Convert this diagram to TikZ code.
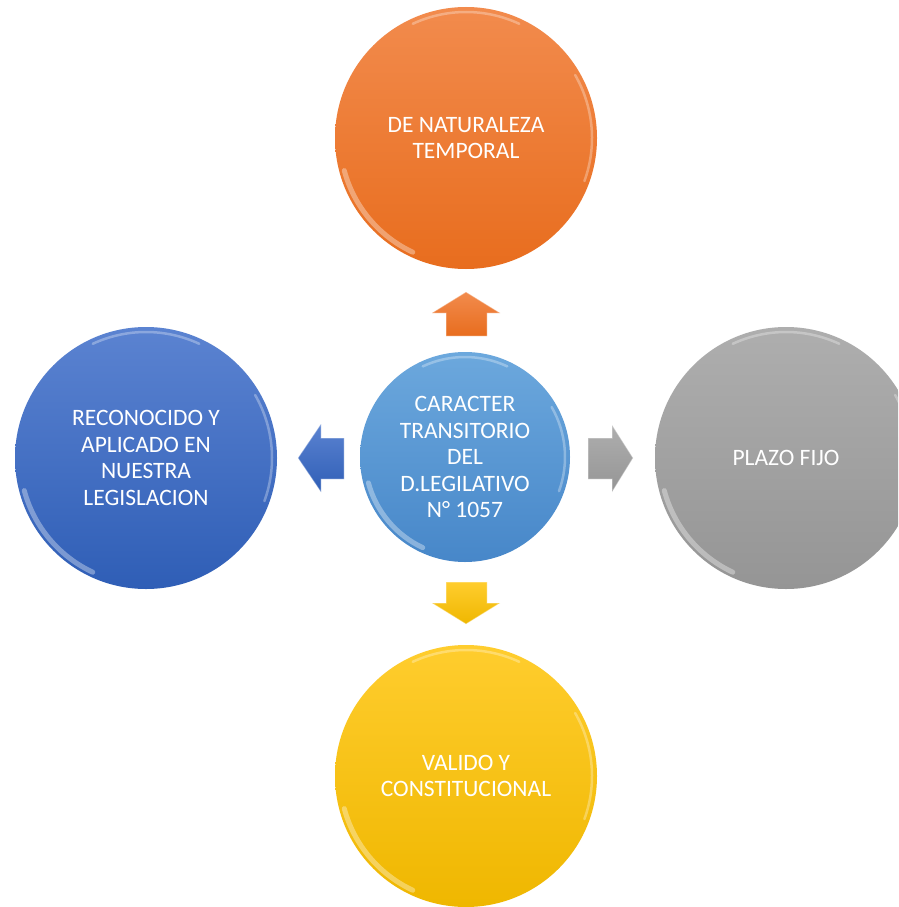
\documentclass[tikz,border=0pt]{standalone}
\usepackage{fontspec}
\setmainfont{Carlito}
\definecolor{orgT}{HTML}{F28B4D}\definecolor{orgB}{HTML}{E86D1E}
\definecolor{bluT}{HTML}{5B83D1}\definecolor{bluB}{HTML}{2F5EB6}
\definecolor{gryT}{HTML}{AEAEAE}\definecolor{gryB}{HTML}{959595}
\definecolor{yelT}{HTML}{FFCD2E}\definecolor{yelB}{HTML}{EFB700}
\definecolor{cenT}{HTML}{6CA8DD}\definecolor{cenB}{HTML}{4787C9}
\tikzset{
  bubble/.style={circle, minimum size=262pt, inner sep=0pt, text=white,
    font=\fontsize{23.5}{26.5}\selectfont, align=center},
  hub/.style={bubble, minimum size=210pt},
  gloss/.style={white, opacity=0.35, line width=5pt, line cap=round},
  glossthin/.style={white, opacity=0.3, line width=2.5pt, line cap=round},
  blockarrow/.style={draw=white, draw opacity=0.35, line width=1pt, line join=miter}
}
\begin{document}
\begin{tikzpicture}[x=1pt,y=1pt]
\clip (0,0) rectangle (898,-907);
\fill[white] (0,0) rectangle (898,-907);
% circles
\node[bubble, top color=orgT, bottom color=orgB] (top) at (466,-138) {DE NATURALEZA\\TEMPORAL};
\node[bubble, top color=bluT, bottom color=bluB] (left) at (146,-458) {RECONOCIDO Y\\APLICADO EN\\NUESTRA\\LEGISLACION};
\node[bubble, top color=gryT, bottom color=gryB] (right) at (786,-458) {PLAZO FIJO};
\node[bubble, top color=yelT, bottom color=yelB] (bottom) at (466,-776) {VALIDO Y\\CONSTITUCIONAL};
\node[hub, top color=cenT, bottom color=cenB] (hub) at (465,-457) {CARACTER\\TRANSITORIO\\DEL\\D.LEGILATIVO\\N° 1057};
% gloss highlights
\foreach \c/\r in {top/126,left/126,right/126,bottom/126,hub/100}{
  \draw[gloss] (\c.center) ++(195:\r) arc[start angle=195, end angle=245, radius=\r];
  \draw[glossthin] (\c.center) ++(65:\r) arc[start angle=65, end angle=115, radius=\r];
  \draw[glossthin] (\c.center) ++(-20:\r) arc[start angle=-20, end angle=30, radius=\r];
}
% block arrows
\path[blockarrow, top color=orgT, bottom color=orgB]
  (432,-313) -- (466,-292) -- (500,-313) -- (487,-313) -- (487,-336) -- (446,-336) -- (446,-313) -- cycle;
\path[blockarrow, top color=bluT, bottom color=bluB]
  (298,-458) -- (321,-424) -- (321,-438) -- (344,-438) -- (344,-479) -- (321,-479) -- (321,-492) -- cycle;
\path[blockarrow, top color=gryT, bottom color=gryB]
  (633,-458) -- (612,-425) -- (612,-438) -- (588,-438) -- (588,-479) -- (612,-479) -- (612,-492) -- cycle;
\path[blockarrow, top color=yelT, bottom color=yelB]
  (466,-624) -- (432,-603) -- (446,-603) -- (446,-582) -- (487,-582) -- (487,-603) -- (500,-603) -- cycle;
\end{tikzpicture}
\end{document}
